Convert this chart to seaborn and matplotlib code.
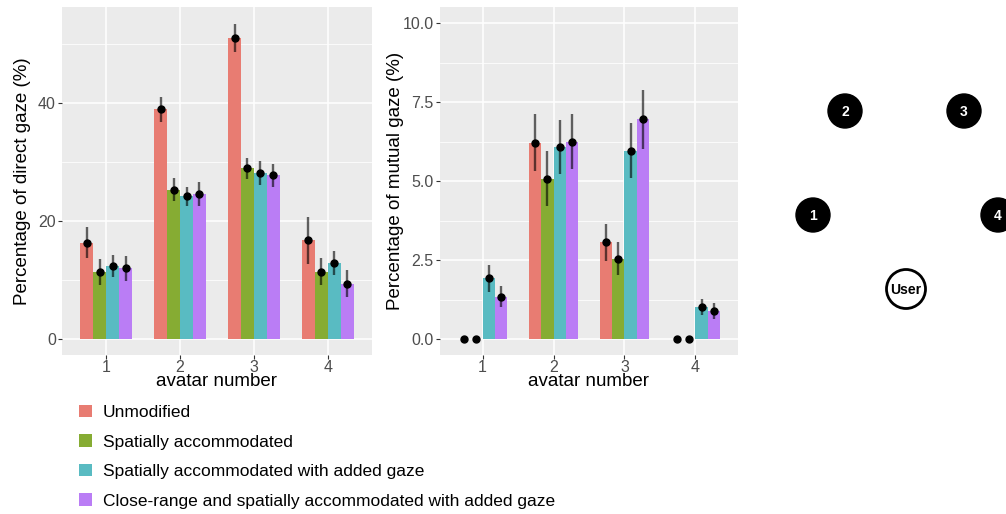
import numpy as np
import pandas as pd
import matplotlib
matplotlib.use("Agg")
import matplotlib.pyplot as plt
from matplotlib.patches import Circle
import seaborn as sns

# conditions and avatars
conditions = ["Unmodified",
              "Spatially accommodated",
              "Spatially accommodated with added gaze",
              "Close-range and spatially accommodated with added gaze"]
avatars = ["1", "2", "3", "4"]
colors = ["#E87C72", "#86AC33", "#59BBC2", "#BA7DF5"]

# direct gaze (%) : rows = condition, cols = avatar
direct_mean = [[16.4, 39.0, 51.1, 16.8],
               [11.4, 25.3, 29.0, 11.4],
               [12.4, 24.2, 28.2, 12.9],
               [12.1, 24.6, 27.8, 9.4]]
direct_lo = [[13.7, 36.8, 48.6, 12.8],
             [9.2, 23.4, 27.2, 9.2],
             [10.5, 22.5, 26.2, 10.9],
             [9.9, 22.5, 25.8, 7.1]]
direct_hi = [[19.1, 41.1, 53.5, 20.8],
             [13.6, 27.3, 30.8, 13.7],
             [14.2, 25.8, 30.2, 15.0],
             [14.1, 26.7, 29.7, 11.8]]

# mutual gaze (%)
mutual_mean = [[0.0, 6.22, 3.07, 0.0],
               [0.0, 5.08, 2.55, 0.0],
               [1.93, 6.10, 5.97, 1.02],
               [1.35, 6.26, 6.96, 0.89]]
mutual_lo = [[0.0, 5.33, 2.48, 0.0],
             [0.0, 4.22, 2.03, 0.0],
             [1.48, 5.23, 5.10, 0.78],
             [1.01, 5.39, 6.03, 0.63]]
mutual_hi = [[0.0, 7.13, 3.66, 0.0],
             [0.0, 5.96, 3.08, 0.0],
             [2.35, 6.95, 6.84, 1.27],
             [1.67, 7.12, 7.89, 1.14]]

# seating diagram labels
seat_labels = ["1", "2", "3", "4"]


def to_long(mean, lo, hi):
    rows = []
    for i, c in enumerate(conditions):
        for j, a in enumerate(avatars):
            rows.append({"cond": c, "avatar": a, "mean": mean[i][j],
                         "lo": lo[i][j], "hi": hi[i][j]})
    return pd.DataFrame(rows)


def gg_panel(ax, df, ylabel, yticks, minor, ylim, ypad=5):
    ax.set_facecolor("#EBEBEB")
    sns.barplot(data=df, x="avatar", y="mean", hue="cond", order=avatars,
                hue_order=conditions, palette=colors, width=0.7, gap=0,
                saturation=1, errorbar=None, ax=ax, legend=True, zorder=2,
                edgecolor="none")
    # error bars and points centred on bars
    for i, c in enumerate(conditions):
        cont = ax.containers[i]
        sub = df[df["cond"] == c].set_index("avatar").loc[avatars]
        xs = [p.get_x() + p.get_width() / 2 for p in cont.patches]
        for x, (_, r) in zip(xs, sub.iterrows()):
            if r["hi"] > r["lo"]:
                ax.plot([x, x], [r["lo"], r["hi"]], color="black",
                        alpha=0.6, lw=1.7, zorder=3, solid_capstyle="butt")
            ax.plot(x, r["mean"], "o", color="black", ms=5, zorder=4)
    ax.set_xlim(-0.6, 3.6)
    ax.set_ylim(*ylim)
    ax.set_yticks(yticks)
    ax.set_yticks(minor, minor=True)
    ax.grid(True, which="major", color="white", lw=1.1, zorder=0)
    ax.grid(True, which="minor", axis="y", color="white", lw=0.55, zorder=0)
    ax.set_axisbelow(True)
    for s in ax.spines.values():
        s.set_visible(False)
    ax.tick_params(axis="both", which="major", length=3, width=0.8,
                   color="#333333", labelcolor="#4D4D4D", labelsize=11.5,
                   pad=1.5)
    ax.tick_params(axis="x", which="major", pad=0.5)
    ax.tick_params(axis="y", which="minor", length=0)
    ax.set_xlabel("avatar number", fontsize=13.5, labelpad=-1)
    ax.set_ylabel(ylabel, fontsize=13.5, labelpad=ypad)
    handles, labels = ax.get_legend_handles_labels()
    ax.get_legend().remove()
    return handles, labels


plt.rcParams["font.family"] = ["Liberation Sans", "DejaVu Sans"]

fig = plt.figure(figsize=(10.06, 5.14), dpi=100)
W, H = 1006, 514
ax1 = fig.add_axes([62 / W, 1 - 355 / H, 310 / W, 348 / H])
ax2 = fig.add_axes([440 / W, 1 - 355 / H, 298 / W, 348 / H])

h, l = gg_panel(ax1, to_long(direct_mean, direct_lo, direct_hi),
                "Percentage of direct gaze (%)", [0, 20, 40], [10, 30, 50],
                (-2.66, 56.3))
gg_panel(ax2, to_long(mutual_mean, mutual_lo, mutual_hi),
         "Percentage of mutual gaze (%)", [0, 2.5, 5.0, 7.5, 10.0],
         [1.25, 3.75, 6.25, 8.75], (-0.5, 10.52), ypad=-1)
ax2.set_yticklabels(["0.0", "2.5", "5.0", "7.5", "10.0"])

fig.legend(h, l, loc="upper left", bbox_to_anchor=(70 / W, 1 - 396 / H),
           frameon=False, fontsize=12.5, handlelength=0.75, handleheight=0.75,
           handletextpad=0.65, labelspacing=0.81, borderpad=0)

# seating diagram
dax = fig.add_axes([0, 0, 1, 1], zorder=-1)
dax.set_xlim(0, W)
dax.set_ylim(H, 0)
dax.axis("off")
seat_xy = [(813, 215), (845, 111), (964, 111), (998, 215)]
for lab, (x, y) in zip(seat_labels, seat_xy):
    dax.add_patch(Circle((x, y), 17, color="black"))
    dax.text(x, y + 1, lab, color="white", fontsize=10, fontweight="bold",
             ha="center", va="center")
dax.add_patch(Circle((906, 289), 19.5, facecolor="white", edgecolor="black",
                     lw=2))
dax.text(906, 290, "User", color="black", fontsize=10, fontweight="bold",
         ha="center", va="center")

fig.savefig("out.png", dpi=100)
